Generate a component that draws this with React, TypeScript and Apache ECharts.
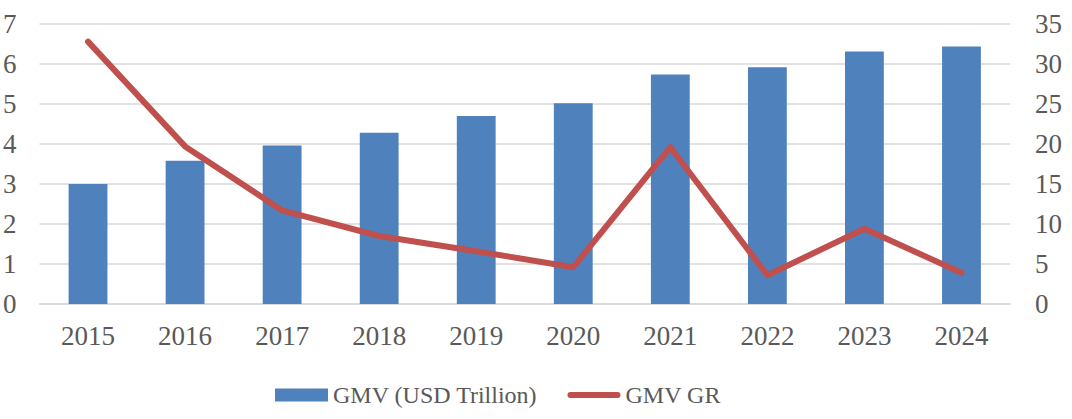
import React, { useEffect, useRef } from "react";
import * as echarts from "echarts";

const years = ["2015", "2016", "2017", "2018", "2019", "2020", "2021", "2022", "2023", "2024"];
const gmv = [3.0, 3.58, 3.96, 4.28, 4.7, 5.02, 5.74, 5.92, 6.31, 6.44];
const gmvGr = [32.8, 19.7, 11.7, 8.5, 6.6, 4.6, 19.6, 3.6, 9.4, 3.9];

const font = "'Liberation Serif', 'Times New Roman', serif";
const textColor = "#595959";
const lineIcon = "path://M0,0 L0.01,0 Z M3,3.5 L51,3.5 A3,3 0 0 1 51,9.5 L3,9.5 A3,3 0 0 1 3,3.5 Z M54,13 L53.99,13 Z";

export default function App() {
  const ref = useRef<HTMLDivElement>(null);
  useEffect(() => {
    const chart = echarts.init(ref.current!, undefined, { renderer: "svg" });
    chart.setOption({
      animation: false,
      textStyle: { fontFamily: font },
      grid: { left: 39, right: 62, top: 24, bottom: 115, containLabel: false },
      legend: {
        top: 378,
        left: 270,
        itemGap: 30,
        itemWidth: 53,
        itemHeight: 13,
        textStyle: { fontFamily: font, fontSize: 24, color: textColor },
        data: [
          { name: "GMV (USD Trillion)", icon: "rect" },
          { name: "GMV GR", icon: lineIcon },
        ],
      },
      xAxis: {
        type: "category",
        data: years,
        axisLine: { lineStyle: { color: "#d9d9d9", width: 1.5 } },
        axisTick: { show: false },
        axisLabel: { fontFamily: font, fontSize: 27, color: textColor, margin: 18 },
      },
      yAxis: [
        {
          type: "value",
          min: 0,
          max: 7,
          interval: 1,
          axisLine: { show: false },
          axisTick: { show: false },
          splitLine: { lineStyle: { color: "#d9d9d9", width: 1.5 } },
          axisLabel: { fontFamily: font, fontSize: 27, color: textColor, margin: 23 },
        },
        {
          type: "value",
          min: 0,
          max: 35,
          interval: 5,
          axisLine: { show: false },
          axisTick: { show: false },
          splitLine: { show: false },
          axisLabel: { fontFamily: font, fontSize: 27, color: textColor, margin: 25 },
        },
      ],
      series: [
        {
          name: "GMV (USD Trillion)",
          type: "bar",
          data: gmv,
          barWidth: "40%",
          itemStyle: { color: "#4F81BD" },
        },
        {
          name: "GMV GR",
          type: "line",
          yAxisIndex: 1,
          data: gmvGr,
          symbol: "none",
          lineStyle: { color: "#C0504D", width: 6, cap: "round", join: "round" },
          itemStyle: { color: "#C0504D" },
        },
      ],
    });
    return () => chart.dispose();
  }, []);
  return <div ref={ref} style={{ width: 1072, height: 419, position: "absolute", left: 0, top: 0 }} />;
}
